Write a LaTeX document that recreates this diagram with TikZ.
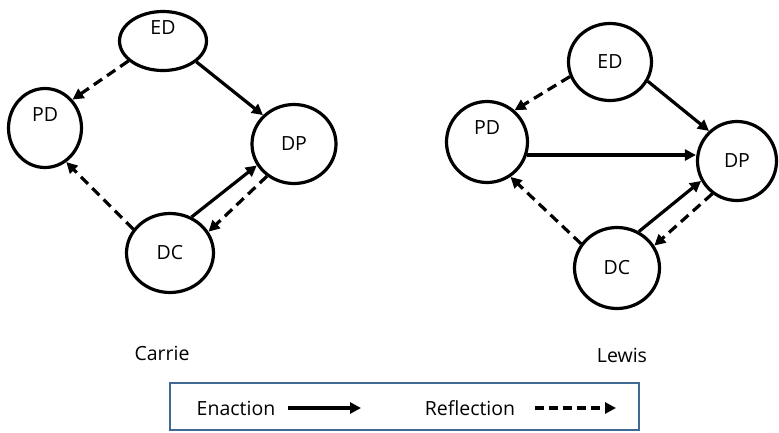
\documentclass[tikz,border=0pt]{standalone}
\usepackage{fontspec}
\setmainfont{Open Sans}
\usetikzlibrary{shapes.geometric,arrows.meta}
\definecolor{legendblue}{RGB}{65,105,150}
\tikzset{
  stage/.style={draw, ellipse, line width=3.2pt, inner sep=0pt, font=\fontsize{19.5}{22}\selectfont},
  enact/.style={line width=3.2pt, -{Triangle[length=11pt,width=11pt]}},
  reflect/.style={enact, dash pattern=on 10pt off 6pt},
  caption/.style={font=\fontsize{19.5}{22}\selectfont, inner sep=0pt},
}
\begin{document}
\begin{tikzpicture}[x=1pt,y=-1pt]
\useasboundingbox (0,0) rectangle (779,432);
% Carrie
\node[stage, minimum width=87pt, minimum height=59pt, label={[yshift=13pt,font=\fontsize{19.5}{22}\selectfont]center:ED}] (EDl) at (163,41) {};
\node[stage, minimum width=73pt, minimum height=79pt, label={[yshift=13pt,font=\fontsize{19.5}{22}\selectfont]center:PD}] (PDl) at (45,128) {};
\node[stage, minimum width=84pt, minimum height=79pt] (DPl) at (294,144) {DP};
\node[stage, minimum width=87pt, minimum height=79pt] (DCl) at (170,253) {DC};
\draw[reflect] (EDl.210) -- (PDl.46);
\draw[enact] (EDl.328) -- (DPl.137);
\draw[reflect] (DCl.147) -- (PDl.302);
\draw[enact] (DCl.59) -- (DPl.210);
\draw[reflect] (DPl.230) -- (DCl.29);
% Lewis
\node[stage, minimum width=83pt, minimum height=77pt] (EDr) at (610,62) {ED};
\node[stage, minimum width=81pt, minimum height=81pt, label={[yshift=14pt,font=\fontsize{19.5}{22}\selectfont]center:PD}] (PDr) at (487,142) {};
\node[stage, minimum width=79pt, minimum height=79pt] (DPr) at (737,161) {DP};
\node[stage, minimum width=85pt, minimum height=81pt] (DCr) at (617,268) {DC};
\draw[reflect] (EDr.200) -- (PDr.49);
\draw[enact] (EDr.333) -- (DPr.133);
\draw[enact] (PDr.-18) -- (PDr.-18 -| DPr.west);
\draw[reflect] (DCr.146) -- (PDr.304);
\draw[enact] (DCr.59) -- (DPr.209);
\draw[reflect] (DPr.233) -- (DCr.31);
% captions
\node[caption] (carrie) at (162,353) {Carrie};
\node[caption] (lewis) at (622,355) {Lewis};
% legend
\node[draw=legendblue, line width=2pt, minimum width=469pt, minimum height=47pt, inner sep=0pt] (legend) at (404.5,406.5) {};
\node[caption] (enlab) at (236,408) {Enaction};
\node[caption] (relab) at (470,408) {Reflection};
\coordinate (ea1) at (288,408);
\coordinate (ea2) at (361,408);
\coordinate (ra1) at (535,408);
\coordinate (ra2) at (616,408);
\draw[enact] (ea1) -- (ea2);
\draw[reflect, dash pattern=on 9pt off 5pt] (ra1) -- (ra2);
\end{tikzpicture}
\end{document}
